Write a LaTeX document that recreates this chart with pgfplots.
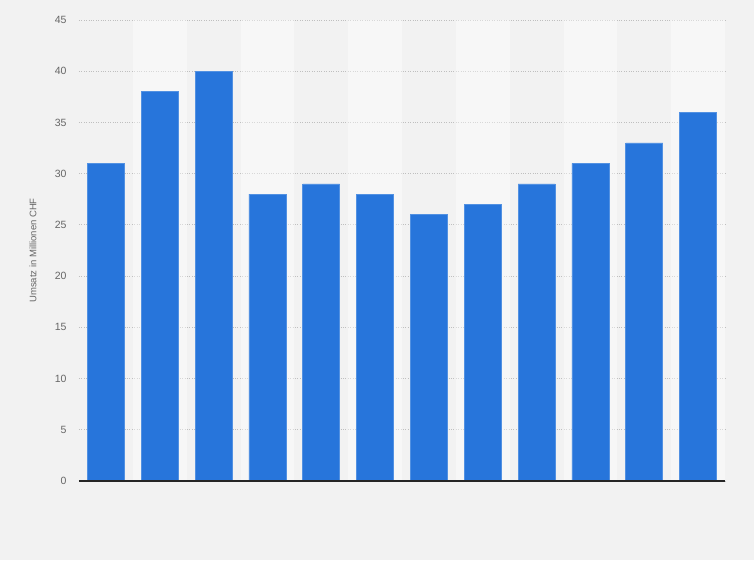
\documentclass[border=0pt]{standalone}
\usepackage{pgfplots}
\pgfplotsset{compat=1.18}
\usepackage{fontspec}
\setmainfont{Liberation Sans}

\definecolor{bg}{HTML}{F2F2F2}
\definecolor{barblue}{HTML}{2775DB}
\definecolor{tickgray}{HTML}{666666}

\begin{document}
\begin{tikzpicture}
	% page background, 754 x 560
	\fill[bg] (-79pt,-79pt) rectangle (675pt,481pt);
	\begin{axis}[
		at={(0,0)}, anchor=south west,
		scale only axis,
		width=646pt, height=461pt,
		ybar, bar width=0.687, bar shift=0pt,
		xmin=-0.5, xmax=11.5,
		ymin=0, ymax=45,
		ytick={0,5,...,45},
		xtick=\empty,
		axis x line*=bottom,
		axis y line*=left,
		x axis line style={draw=none},
		y axis line style={draw=none},
		ymajorgrids,
		grid style={dotted, color=black!25, line width=0.8pt},
		major tick length=0pt,
		yticklabel style={font=\fontsize{10.5}{12}\selectfont, text=tickgray, xshift=-9pt},
		/pgf/number format/assume math mode=true,
		ylabel={Umsatz in Millionen CHF},
		ylabel style={font=\fontsize{9.5}{11}\selectfont, text=tickgray},
		every axis y label/.append style={at={(-39pt,0.5)}, anchor=south},
		]
		% alternating column bands
		\foreach \i in {0.5,2.5,4.5,6.5,8.5,10.5}{
			\edef\tmp{\noexpand\fill[white, fill opacity=0.4] (axis cs:\i,0) rectangle (axis cs:\i+1,45);}
			\tmp
		}
		\addplot[fill=barblue, draw=barblue!80!white, line width=0.6pt] coordinates {
			(0,31)
			(1,38)
			(2,40)
			(3,28)
			(4,29)
			(5,28)
			(6,26)
			(7,27)
			(8,29)
			(9,31)
			(10,33)
			(11,36)
		};
		% baseline over the bars
		\draw[black!85, line width=1.2pt] (rel axis cs:0,0) -- (rel axis cs:1,0);
	\end{axis}
\end{tikzpicture}
\end{document}
